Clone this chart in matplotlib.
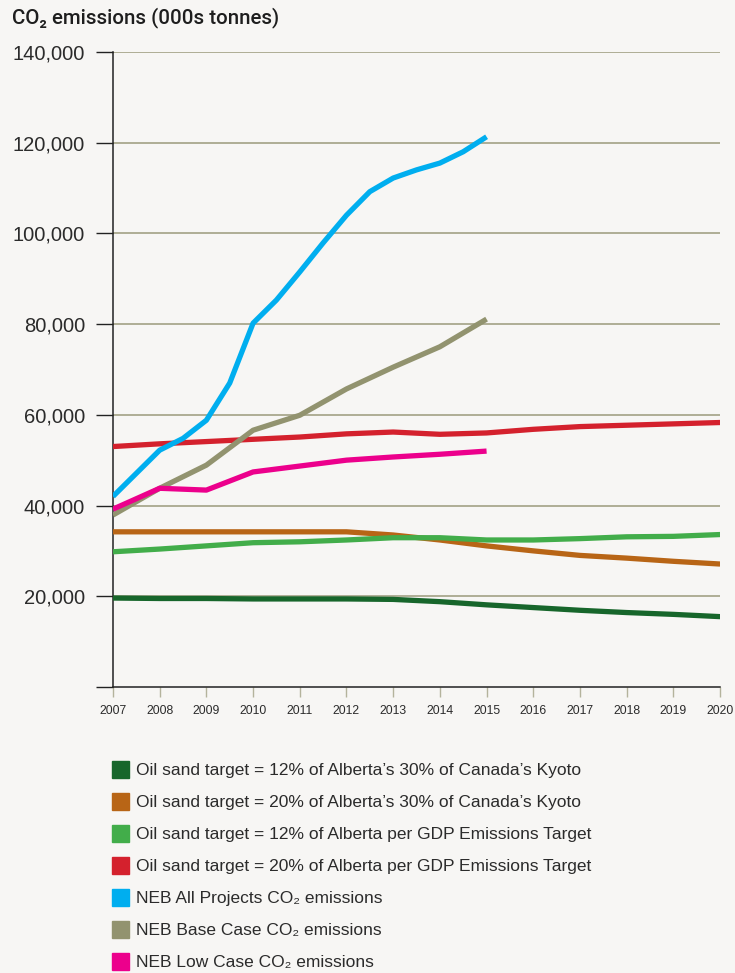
import numpy as np
from matplotlib import pyplot as plt
from matplotlib.patches import Rectangle

# years for the yearly series
years = [2007, 2008, 2009, 2010, 2011, 2012, 2013, 2014, 2015, 2016, 2017, 2018, 2019, 2020]
years_neb = [2007, 2008, 2009, 2010, 2011, 2012, 2013, 2014, 2015]
# blue line is read every half year (it curves)
years_half = [2007, 2007.5, 2008, 2008.5, 2009, 2009.5, 2010, 2010.5, 2011, 2011.5,
              2012, 2012.5, 2013, 2013.5, 2014, 2014.5, 2015]

kyoto_12 = [19600, 19500, 19500, 19400, 19400, 19400, 19300, 18800, 18100, 17500, 16900, 16400, 16000, 15500]
kyoto_20 = [34200, 34200, 34200, 34200, 34200, 34200, 33500, 32400, 31100, 30000, 29000, 28400, 27700, 27100]
gdp_12 = [29800, 30400, 31100, 31800, 32000, 32400, 32900, 32900, 32400, 32400, 32700, 33100, 33200, 33600]
gdp_20 = [53000, 53600, 54100, 54600, 55100, 55800, 56200, 55700, 56000, 56800, 57400, 57700, 58000, 58300]
neb_all = [42000, 47100, 52200, 54800, 58800, 67000, 80200, 85300, 91500, 97900,
           104000, 109200, 112200, 114000, 115500, 118000, 121300]
neb_base = [37900, 43800, 48900, 56600, 59900, 65700, 70500, 75000, 81100]
neb_low = [39200, 43800, 43400, 47400, 48700, 50000, 50700, 51300, 52000]

labels = [
    "Oil sand target = 12% of Alberta\u2019s 30% of Canada\u2019s Kyoto",
    "Oil sand target = 20% of Alberta\u2019s 30% of Canada\u2019s Kyoto",
    "Oil sand target = 12% of Alberta per GDP Emissions Target",
    "Oil sand target = 20% of Alberta per GDP Emissions Target",
    "NEB All Projects CO\u2082 emissions",
    "NEB Base Case CO\u2082 emissions",
    "NEB Low Case CO\u2082 emissions",
]
colors = ["#17662b", "#b86516", "#42ad4a", "#d4212d", "#00aeef", "#92936f", "#ec008c"]

bg = "#f7f6f4"
fam = ["Liberation Sans", "DejaVu Sans"]
plt.rcParams["font.family"] = fam

fig = plt.figure(figsize=(7.35, 9.73), dpi=100, facecolor=bg)
ax = fig.add_axes([0.1537, 0.294, 0.826, 0.6526], facecolor=bg)

series = [
    (years, kyoto_12),
    (years, kyoto_20),
    (years, gdp_12),
    (years, gdp_20),
    (years_half, neb_all),
    (years_neb, neb_base),
    (years_neb, neb_low),
]
for (xs, ys), c in zip(series, colors):
    ax.plot(xs, ys, color=c, lw=3.8, solid_capstyle="butt", solid_joinstyle="round", zorder=3)

ax.set_xlim(2007, 2020)
ax.set_ylim(0, 140000)
ax.set_yticks(np.arange(0, 140001, 20000))
ax.set_yticklabels([""] + [f"{v:,}" for v in range(20000, 140001, 20000)])
ax.set_xticks(years)
ax.set_xticklabels([str(y) for y in years])

for v in range(20000, 140001, 20000):
    ax.axhline(v, color="#a9a88e", lw=1.3, zorder=1)

for s in ["top", "right"]:
    ax.spines[s].set_visible(False)
ax.spines["left"].set_color("#222222")
ax.spines["bottom"].set_color("#222222")
ax.spines["left"].set_linewidth(1.1)
ax.spines["bottom"].set_linewidth(1.1)

ax.tick_params(axis="y", length=12, width=1.0, color="#222222", pad=8,
               labelsize=14.5, labelcolor="#2b2b2b")
ax.yaxis.get_major_ticks()[0].tick1line.set_color("#8a8a8a")
ax.tick_params(axis="x", length=7, width=1.0, color="#b4b39c", pad=6,
               labelsize=8.8, labelcolor="#2b2b2b")

fig.text(12 / 735, 1 - 18 / 973, "CO\u2082 emissions (000s tonnes)", fontsize=14.8,
         color="#1e1e1e", va="center", ha="left", family=["Roboto", "DejaVu Sans"],
         weight="medium")

# legend
y0 = 770
for i, (lab, c) in enumerate(zip(labels, colors)):
    ypx = y0 + i * 32
    fig.patches.append(Rectangle((112 / 735, 1 - (ypx + 8) / 973), 17 / 735, 17 / 973,
                                 transform=fig.transFigure, color=c, figure=fig))
    fig.text(136 / 735, 1 - ypx / 973, lab, fontsize=12.5, color="#2b2b2b",
             va="center", ha="left", family=fam)

fig.savefig("out.png", dpi=100, facecolor=bg)
plt.close()
